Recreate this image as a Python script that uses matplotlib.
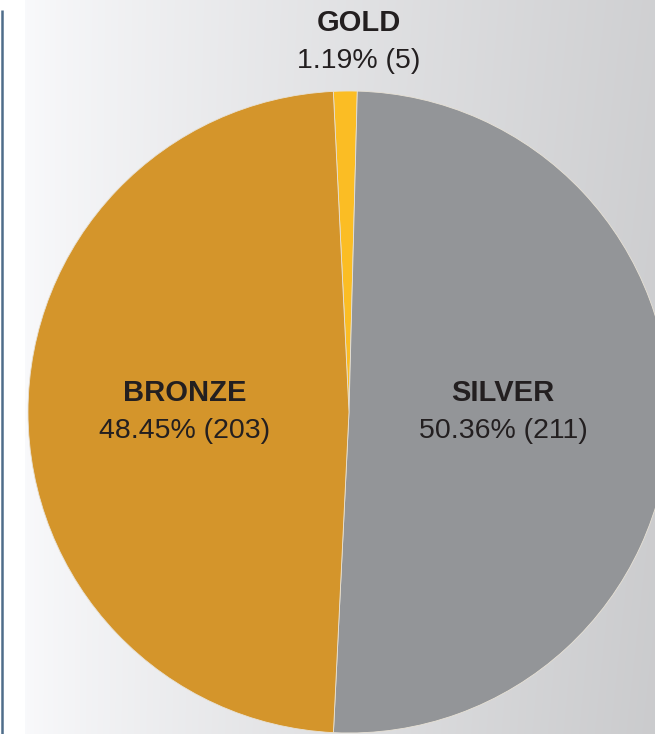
import numpy as np
import matplotlib
matplotlib.use("Agg")
import matplotlib.pyplot as plt

# ---- data ----
categories = ["GOLD", "SILVER", "BRONZE"]
percents = [1.19, 50.36, 48.45]
counts = [5, 211, 203]
colors = ["#fbbd24", "#939598", "#d4952b"]

W, H = 655, 734
fig = plt.figure(figsize=(W / 100, H / 100), dpi=100)
ax = fig.add_axes([0, 0, 1, 1])
fig.patch.set_facecolor("white")

# background gradient (light on the left, grey to the right)
xs = np.linspace(0, 1, 400)
ys = np.linspace(0, 1, 300)
X, Y = np.meshgrid(xs, ys)
val = 0.975 - 0.17 * X ** 0.85 + 0.02 * (Y - 0.5) * X
img = np.dstack([val, val + 0.002, val + 0.01])
img = np.clip(img, 0, 1)
ax.imshow(img, extent=[25, W, 0, H], origin="lower", aspect="auto", zorder=0)

# left rule
ax.plot([2, 2], [0, H - 10], color="#4f6d8a", lw=1.8, zorder=1, solid_capstyle="butt")

# pie
cx, cy, r = 349, H - 412, 321
wedges, _ = ax.pie(percents, colors=colors, startangle=92.8, counterclock=False,
                   center=(cx, cy), radius=r, frame=True,
                   wedgeprops=dict(edgecolor="#e8e2d6", linewidth=0.6))
for w in wedges:
    w.set_zorder(2)
ax.set_xlim(0, W)
ax.set_ylim(0, H)
ax.set_aspect("equal")
ax.axis("off")

font = "Liberation Sans"
txtc = "#231f20"
label_pos = {"GOLD": (359, H - 23, H - 61),
             "SILVER": (503, H - 393, H - 431),
             "BRONZE": (185, H - 393, H - 431)}
for cat, p, n in zip(categories, percents, counts):
    x, y1, y2 = label_pos[cat]
    ax.text(x, y1, cat, ha="center", va="center", fontsize=21, fontweight="bold",
            family=font, color=txtc, zorder=5)
    ax.text(x, y2, f"{p:.2f}% ({n})", ha="center", va="center", fontsize=20.5,
            family=font, color=txtc, zorder=5)

fig.savefig("out.png", dpi=100)
